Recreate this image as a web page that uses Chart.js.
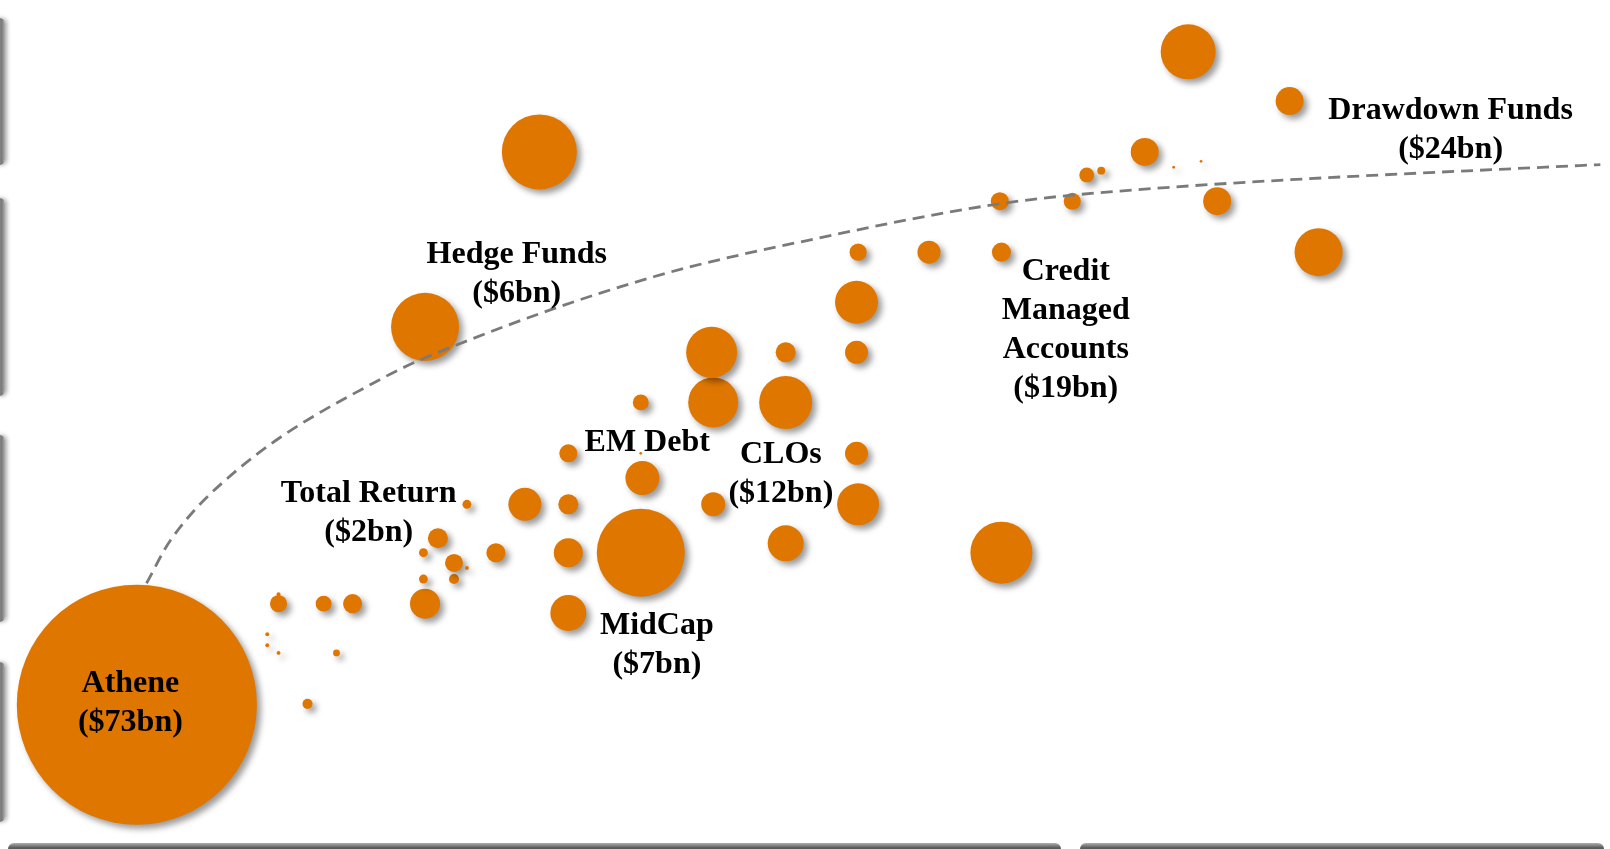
<!DOCTYPE html>
<html>
<head>
<meta charset="utf-8">
<script src="https://cdn.jsdelivr.net/npm/chart.js@4.4.1/dist/chart.umd.min.js"></script>
<style>
  body { margin: 0; background: #fff; overflow: hidden; }
  #wrap { position: relative; width: 1610px; height: 849px; overflow: hidden; }
  #chart { position: absolute; left: 0; top: 0; }
  .side { position: absolute; left: -6px; width: 11px; border-radius: 6px; background: linear-gradient(90deg, #a0a0a0, #7a7a7a 70%, #b0b0b0); box-shadow: 2px 0 4px rgba(0,0,0,0.35); }
  .foot { position: absolute; top: 843px; height: 16px; border-radius: 6px; background: linear-gradient(#b0b0b0, #5a5a5a 30%, #555); }
</style>
</head>
<body>
<div id="wrap">
  <canvas id="chart" width="1610" height="849"></canvas>
  <div class="side" style="top:18px;height:147px"></div>
  <div class="side" style="top:198px;height:198px"></div>
  <div class="side" style="top:435px;height:187px"></div>
  <div class="side" style="top:662px;height:160px"></div>
  <div class="foot" style="left:8px;width:1053px"></div>
  <div class="foot" style="left:1080px;width:524px"></div>
</div>
<script>
// risk (x) / return (y) index, 0-100, and fund size in $bn
var fundX = [8.5, 19.1, 17.3, 17.3, 20.1, 21.9, 16.6, 16.6, 17.3, 20.9,
             26.4, 26.3, 28.2, 26.3, 28.2, 29.0, 27.2, 29.0, 30.8, 32.6,
             35.3, 35.3, 35.3, 39.8, 39.9, 39.8, 35.3, 39.8, 44.3, 44.2,
             44.3, 48.8, 48.8, 48.8, 53.2, 53.2, 53.2, 53.3, 53.3, 57.7,
             62.2, 62.2, 62.1, 66.6, 67.5, 68.4, 71.1, 72.9, 74.6, 75.6,
             81.9, 80.1, 73.8, 33.5, 26.4];
var fundY = [17.0, 17.1, 30.0, 28.9, 28.9, 28.9, 25.3, 24.0, 23.1, 23.1,
             28.9, 31.8, 31.8, 34.9, 33.7, 33.1, 36.6, 40.6, 34.9, 40.6,
             40.6, 34.9, 27.8, 34.9, 43.7, 46.6, 46.6, 52.6, 52.6, 58.5,
             40.6, 58.5, 52.6, 36.0, 64.4, 58.5, 46.6, 40.6, 70.3, 70.3,
             70.3, 34.9, 76.3, 76.3, 79.4, 79.9, 82.1, 80.3, 81.0, 76.3,
             70.3, 88.1, 93.9, 82.1, 61.5];
var fundSize = [73, 0.13, 0.02, 0.37, 0.32, 0.46, 0.02, 0.02, 0.02, 0.06,
                1.14, 0.10, 0.13, 0.10, 0.41, 0.02, 0.51, 0.10, 0.46, 1.38,
                0.51, 1.07, 1.64, 9.81, 1.46, 0.01, 0.41, 0.32, 3.17, 3.29,
                0.73, 0.51, 3.56, 1.64, 2.34, 0.67, 0.67, 2.23, 0.37, 0.67,
                0.46, 4.87, 0.41, 0.37, 0.28, 0.08, 0.99, 0.01, 0.01, 0.99,
                2.92, 0.99, 3.83, 7.12, 5.86];

// trend curve
var curveX = [9.1, 10.6, 14.9, 23.8, 28.4, 40.6, 51.2, 62.1, 68.3, 98.1, 99.4];
var curveY = [31.3, 36.4, 44.9, 55.5, 59.4, 67.4, 72.1, 76.0, 77.3, 80.5, 80.6];

// strategy labels
var labelText = [["Athene", "($73bn)"], ["Total Return", "($2bn)"], ["EM Debt"],
                 ["MidCap", "($7bn)"], ["CLOs", "($12bn)"], ["Hedge Funds", "($6bn)"],
                 ["Credit", "Managed", "Accounts", "($19bn)"], ["Drawdown Funds", "($24bn)"]];
var labelX = [8.1, 22.9, 40.2, 40.8, 48.5, 32.1, 66.2, 90.1];
var labelY = [19.5, 41.8, 47.9, 26.3, 46.4, 70.0, 68.0, 86.9];

var pxPerRootBn = 14.05;

var bubbles = fundX.map(function(x, i) {
    return { x: x, y: fundY[i], r: pxPerRootBn * Math.sqrt(fundSize[i]) };
});
var curve = curveX.map(function(x, i) {
    return { x: x, y: curveY[i] };
});

var shadowPlugin = {
    id: 'shadow',
    beforeDatasetDraw: function(chart, args) {
        if (args.index !== 1) return;
        var c = chart.ctx;
        c.save();
        c.shadowColor = 'rgba(0,0,0,0.4)';
        c.shadowBlur = 6;
        c.shadowOffsetX = 4;
        c.shadowOffsetY = 4;
    },
    afterDatasetDraw: function(chart, args) {
        if (args.index === 1) chart.ctx.restore();
    }
};

var labelPlugin = {
    id: 'labels',
    afterDatasetsDraw: function(chart) {
        var c = chart.ctx;
        var xs = chart.scales.x, ys = chart.scales.y;
        c.save();
        c.font = 'bold 32px "Liberation Serif", "Times New Roman", serif';
        c.fillStyle = '#000';
        c.textAlign = 'center';
        c.textBaseline = 'middle';
        labelText.forEach(function(lines, i) {
            var px = xs.getPixelForValue(labelX[i]);
            var py = ys.getPixelForValue(labelY[i]);
            lines.forEach(function(t, j) {
                c.fillText(t, px, py + j * 39);
            });
        });
        c.restore();
    }
};

var ctx = document.getElementById("chart");
var myChart = new Chart(ctx, {
    type: 'bubble',
    data: {
        datasets: [
            {
                type: 'line',
                data: curve,
                borderColor: '#7a7a7a',
                borderWidth: 2.8,
                borderDash: [12, 7],
                pointRadius: 0,
                cubicInterpolationMode: 'monotone',
                fill: false,
                clip: false,
                order: 0
            },
            {
                data: bubbles,
                backgroundColor: '#DF7600',
                borderWidth: 0,
                hoverRadius: 0,
                clip: false,
                order: 1
            }
        ]
    },
    options: {
        responsive: false,
        animation: false,
        layout: { padding: 0, autoPadding: false },
        scales: {
            x: { type: 'linear', min: 0, max: 100, display: false },
            y: { type: 'linear', min: 0, max: 100, display: false }
        },
        plugins: {
            legend: { display: false },
            tooltip: { enabled: false }
        }
    },
    plugins: [shadowPlugin, labelPlugin]
});
</script>
</body>
</html>
